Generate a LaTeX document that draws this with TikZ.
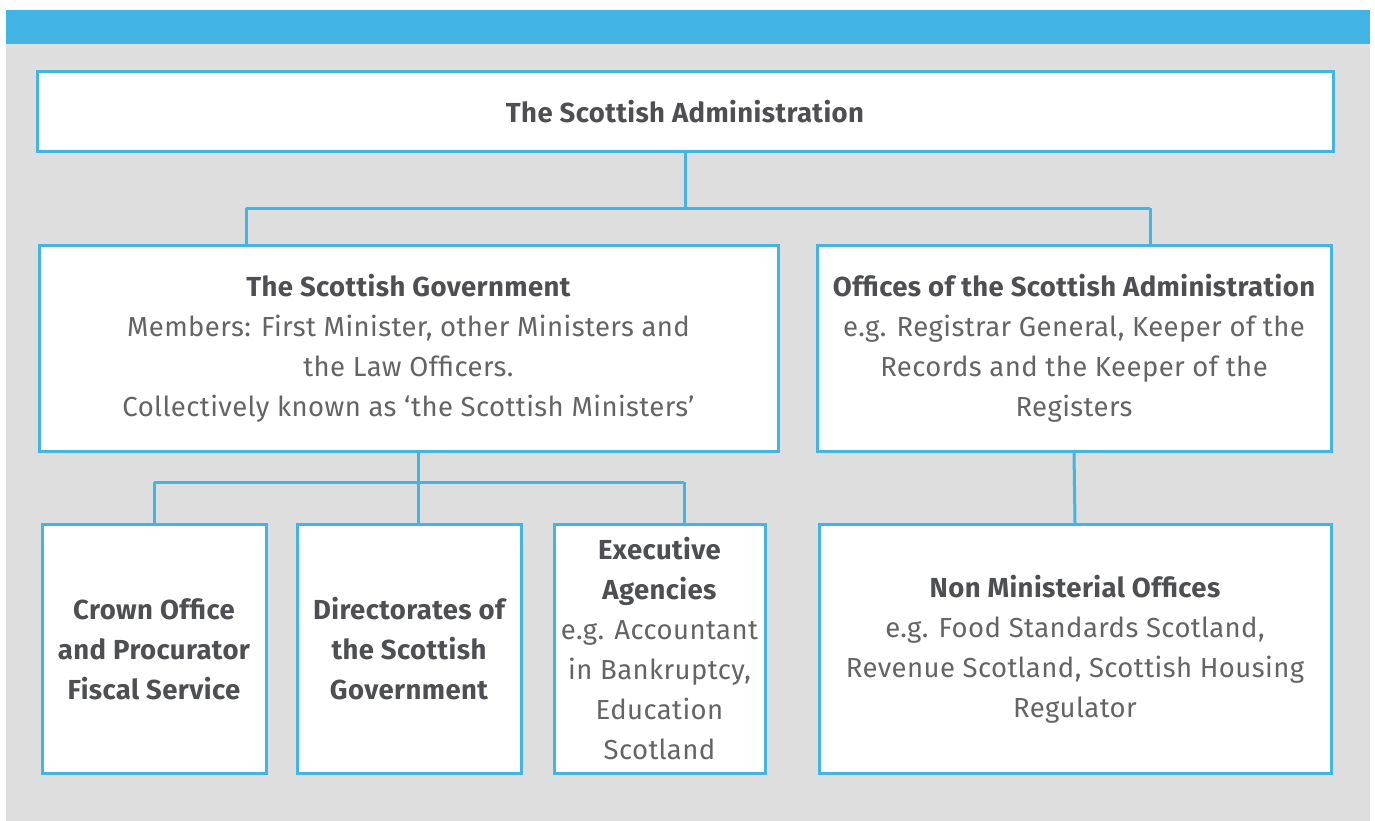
\documentclass[tikz,border=0pt]{standalone}
\usepackage{fontspec}
\setmainfont{Fira Sans}[LetterSpace=1.5]
\definecolor{linkblue}{RGB}{66,181,228}
\definecolor{panelgrey}{RGB}{222,222,222}
\definecolor{headtext}{RGB}{78,79,82}
\definecolor{bodytext}{RGB}{100,100,102}

\begin{document}
\begin{tikzpicture}[x=1pt,y=-1pt]

\tikzset{orgbox/.style={draw=linkblue,line width=3pt,fill=white,rectangle,inner sep=0pt,align=center,
    font=\fontsize{27.5}{40}\selectfont,text=bodytext},
  link/.style={draw=linkblue,line width=3pt}}
\newcommand{\hd}[1]{{\bfseries\color{headtext}#1}}

  \useasboundingbox (0,0) rectangle (1375,821);
  \fill[panelgrey] (6,10) rectangle (1370,821);
  \fill[linkblue] (6,10) rectangle (1370,44);

  \node[orgbox,minimum width=1296pt,minimum height=80pt] (admin) at (685,112) {\hd{The Scottish Administration}};

  \node[orgbox,minimum width=739pt,minimum height=206pt] (gov) at (408.5,348)
    {\hd{The Scottish Government}\\Members: First Minister, other Ministers and\\the Law Officers.\\Collectively known as ‘the Scottish Ministers’};
  \node[orgbox,minimum width=514pt,minimum height=206pt] (offices) at (1074,348)
    {\hd{Offices of the Scottish Administration}\\e.g. Registrar General, Keeper of the\\Records and the Keeper of the\\Registers};

  \node[orgbox,minimum width=224pt,minimum height=249pt] (crown) at (154,649)
    {\hd{Crown Office}\\\hd{and Procurator}\\\hd{Fiscal Service}};
  \node[orgbox,minimum width=224pt,minimum height=249pt] (dirs) at (409,649)
    {\hd{Directorates of}\\\hd{the Scottish}\\\hd{Government}};
  \node[orgbox,minimum width=211pt,minimum height=249pt] (agencies) at (659.5,649)
    {\hd{Executive}\\\hd{Agencies}\\e.g. Accountant\\in Bankruptcy,\\Education\\Scotland};
  \node[orgbox,minimum width=512pt,minimum height=249pt] (nmo) at (1075,649)
    {\hd{Non Ministerial Offices}\\e.g. Food Standards Scotland,\\Revenue Scotland, Scottish Housing\\Regulator};

  % upper tree
  \coordinate (ga) at (246,208);
  \coordinate (oa) at (1150,208);
  \draw[link] (admin.south) -- (admin.south |- ga);
  \draw[link] (ga) -- (oa);
  \draw[link] (ga) -- (ga |- gov.north);
  \draw[link] (oa) -- (oa |- offices.north);

  % lower tree
  \coordinate (gb) at (418,482);
  \coordinate (cb) at (154,482);
  \coordinate (eb) at (684,482);
  \draw[link] (gb |- gov.south) -- (gb |- dirs.north);
  \draw[link] (cb) -- (eb);
  \draw[link] (cb) -- (crown.north);
  \draw[link] (eb) -- (eb |- agencies.north);

  \draw[link] (offices.south) -- (nmo.north);

\end{tikzpicture}
\end{document}
